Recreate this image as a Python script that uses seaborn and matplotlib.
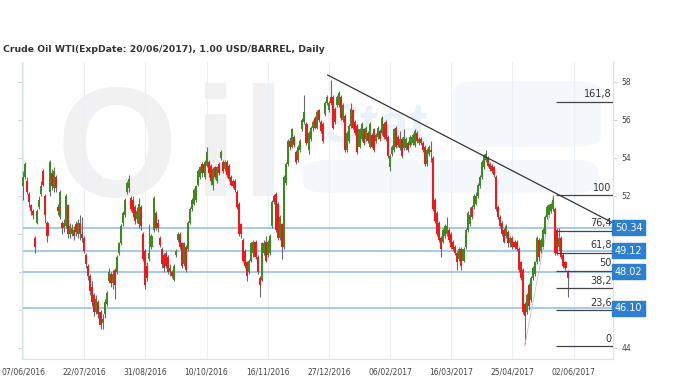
import matplotlib
matplotlib.use('Agg')
import matplotlib.pyplot as plt
from matplotlib.patches import FancyBboxPatch
import seaborn as sns
import numpy as np

# Daily candles (one entry per trading day, oldest first)
opens = [52.5, 53.0, 52.8, 52.1, 51.5, 51.2, 49.8, 50.6, 51.4, 52.1,
         53.3, 52.0, 50.6, 52.2, 53.2, 52.4, 53.0, 51.4, 50.9, 50.6,
         50.3, 50.4, 51.5, 50.0, 50.0, 50.2, 50.5, 50.0, 50.6, 50.0,
         49.8, 48.9, 48.3, 47.8, 47.2, 46.8, 45.9, 46.4, 45.9, 45.3,
         45.8, 46.3, 47.5, 47.9, 47.4, 48.1, 48.0, 49.0, 49.5, 50.6,
         51.0, 52.2, 52.4, 51.9, 51.8, 51.4, 50.8, 50.5, 51.4, 50.0,
         49.1, 48.3, 48.7, 49.3, 50.2, 51.1, 50.6, 49.8, 49.2, 48.9,
         49.0, 48.8, 48.0, 48.0, 47.6, 48.9, 49.7, 50.0, 49.5, 48.4,
         49.3, 49.2, 50.6, 51.3, 51.6, 51.8, 52.6, 53.0, 53.7, 53.0,
         53.6, 53.8, 53.6, 52.6, 53.5, 52.8, 53.7, 54.0, 53.8, 53.4,
         53.8, 53.6, 53.0, 52.8, 52.8, 52.2, 51.6, 50.5, 49.7, 49.1,
         48.5, 48.0, 48.6, 49.0, 49.6, 48.8, 47.7, 47.6, 49.0, 49.6,
         48.9, 49.0, 50.4, 52.0, 52.1, 51.6, 49.8, 50.5, 49.3, 52.7,
         53.7, 54.9, 54.6, 55.1, 54.3, 53.9, 54.4, 55.5, 55.9, 55.8,
         54.4, 55.0, 55.6, 56.1, 55.6, 56.5, 55.9, 55.8, 56.3, 56.9,
         56.5, 57.2, 57.2, 56.6, 56.8, 56.8, 57.2, 56.0, 56.2, 54.4,
         54.9, 55.7, 56.5, 55.9, 55.7, 54.6, 55.0, 55.5, 55.0, 55.3,
         54.6, 55.2, 55.5, 54.9, 55.1, 55.4, 55.3, 55.8, 55.9, 55.1,
         53.5, 54.2, 54.4, 55.6, 55.1, 54.5, 55.0, 54.5, 54.5, 54.8,
         54.7, 54.8, 54.7, 55.3, 54.8, 55.0, 54.8, 54.6, 53.7, 54.2,
         54.4, 54.0, 51.8, 51.1, 50.6, 49.8, 49.6, 49.9, 50.0, 50.2,
         50.0, 49.6, 49.3, 49.0, 48.7, 49.2, 48.6, 49.3, 50.2, 50.5,
         51.4, 51.4, 51.6, 52.0, 52.5, 53.0, 53.5, 53.9, 54.0, 53.7,
         53.6, 53.5, 53.0, 51.4, 50.9, 50.6, 50.2, 49.9, 50.1, 49.5,
         49.8, 49.6, 49.6, 49.2, 48.5, 48.1, 46.3, 45.9, 47.3, 46.5,
         47.7, 47.9, 48.5, 49.7, 49.1, 49.3, 50.0, 50.9, 51.0, 51.2,
         51.3, 51.3, 50.2, 49.3, 49.8, 48.9, 48.5, 48.0]
closes = [53.0, 53.7, 52.2, 51.7, 51.2, 51.0, 49.3, 51.2, 51.8, 52.5,
          52.6, 51.0, 49.9, 53.8, 52.5, 53.3, 52.4, 51.2, 52.2, 50.3,
          50.6, 52.0, 50.0, 50.4, 50.3, 49.9, 50.1, 50.6, 50.0, 49.8,
          49.1, 48.4, 47.8, 47.0, 46.4, 45.9, 46.6, 45.8, 45.2, 45.5,
          46.4, 46.9, 48.0, 47.4, 47.9, 47.3, 48.8, 49.5, 50.4, 51.1,
          51.8, 52.7, 52.9, 51.3, 51.1, 50.7, 51.2, 51.6, 50.4, 48.7,
          47.3, 47.7, 49.0, 49.9, 51.9, 50.3, 50.3, 49.4, 48.4, 48.2,
          48.3, 48.0, 48.2, 47.8, 48.3, 49.1, 50.0, 49.3, 48.3, 49.5,
          48.1, 50.6, 51.3, 51.8, 52.3, 52.5, 53.3, 53.5, 53.2, 53.8,
          54.3, 53.2, 52.8, 53.4, 53.0, 53.5, 53.2, 54.3, 53.3, 53.8,
          53.1, 52.9, 52.6, 52.5, 52.3, 51.4, 50.0, 50.0, 48.6, 48.3,
          47.8, 48.6, 49.5, 49.6, 48.8, 48.0, 47.3, 49.5, 49.5, 48.6,
          49.6, 49.9, 51.7, 51.7, 50.2, 49.8, 50.9, 49.3, 53.0, 53.7,
          54.9, 54.6, 55.5, 54.7, 53.8, 54.6, 54.9, 56.0, 56.4, 54.8,
          55.3, 55.6, 55.9, 55.6, 56.4, 56.0, 55.4, 54.9, 56.9, 57.2,
          56.9, 56.9, 55.6, 55.9, 57.2, 57.4, 56.1, 56.8, 54.4, 55.3,
          55.7, 56.6, 55.6, 55.3, 54.3, 55.5, 55.8, 54.8, 55.6, 54.9,
          55.8, 54.6, 54.4, 55.2, 55.6, 55.0, 56.1, 55.1, 55.0, 54.1,
          54.1, 54.6, 55.5, 54.6, 54.7, 55.0, 54.1, 55.1, 55.0, 54.4,
          55.1, 55.2, 55.4, 54.9, 55.0, 54.8, 54.4, 53.7, 54.4, 54.6,
          54.3, 51.3, 50.7, 50.0, 49.7, 49.2, 50.2, 50.4, 50.4, 49.7,
          49.3, 49.2, 49.0, 48.5, 49.2, 48.3, 49.2, 50.2, 51.1, 51.0,
          50.9, 52.0, 52.0, 52.6, 53.0, 53.8, 54.1, 54.2, 53.6, 53.4,
          53.3, 53.1, 51.3, 50.9, 50.4, 50.0, 49.6, 50.4, 49.5, 49.8,
          49.3, 49.3, 49.2, 48.1, 47.7, 45.9, 45.7, 46.8, 46.2, 47.7,
          48.2, 48.5, 49.8, 48.8, 49.7, 50.2, 50.9, 51.4, 51.5, 51.6,
          51.8, 49.0, 49.0, 49.8, 48.8, 48.3, 48.2, 47.7]
highs = [53.3, 53.8, 53.0, 52.2, 51.6, 51.3, 49.9, 51.3, 52.0, 52.8,
         53.4, 52.1, 50.7, 53.9, 53.4, 53.5, 53.1, 51.6, 52.3, 50.7,
         50.8, 52.1, 51.6, 50.6, 50.5, 50.4, 50.7, 50.8, 51.0, 50.9,
         49.9, 49.0, 48.4, 47.9, 47.5, 46.9, 46.8, 46.5, 46.0, 45.8,
         46.6, 47.0, 48.2, 48.0, 48.1, 48.2, 48.9, 49.6, 50.5, 51.2,
         51.9, 52.8, 53.1, 52.0, 52.0, 51.5, 51.4, 51.9, 51.5, 50.1,
         49.2, 48.5, 50.5, 50.0, 52.0, 51.2, 50.8, 49.9, 49.3, 49.0,
         49.1, 48.9, 48.4, 48.1, 48.4, 49.2, 50.1, 50.1, 49.6, 49.6,
         49.4, 50.7, 51.4, 51.9, 52.4, 52.6, 53.4, 53.6, 53.8, 53.9,
         54.6, 53.9, 53.7, 53.5, 53.6, 53.6, 53.8, 54.4, 53.9, 53.9,
         53.9, 53.7, 53.1, 52.9, 52.9, 52.3, 51.7, 50.6, 49.8, 49.2,
         48.6, 48.7, 49.6, 49.7, 49.7, 48.9, 47.8, 49.6, 49.7, 49.9,
         49.7, 50.0, 51.8, 52.1, 52.2, 51.7, 51.0, 50.6, 53.1, 53.8,
         55.0, 55.1, 55.6, 55.2, 54.4, 54.7, 55.0, 56.1, 57.3, 55.9,
         55.4, 55.7, 56.0, 56.2, 56.5, 56.6, 56.0, 55.9, 57.0, 57.3,
         57.0, 58.1, 57.3, 56.7, 57.3, 57.5, 57.3, 56.9, 56.3, 55.4,
         55.8, 56.9, 56.6, 56.0, 55.8, 55.6, 55.9, 55.6, 55.7, 55.4,
         55.9, 55.3, 55.6, 55.3, 55.7, 55.5, 56.2, 55.9, 56.0, 55.2,
         54.2, 54.7, 55.6, 55.7, 55.2, 55.4, 55.1, 55.5, 55.1, 54.9,
         55.2, 55.3, 55.5, 55.4, 55.1, 55.1, 54.9, 54.7, 54.5, 54.7,
         54.9, 54.1, 51.9, 51.2, 50.7, 49.9, 50.3, 50.5, 50.9, 50.3,
         50.1, 49.7, 49.4, 49.1, 49.3, 49.3, 49.3, 50.3, 51.2, 51.4,
         51.5, 52.1, 52.2, 52.7, 53.1, 53.9, 54.2, 54.4, 54.1, 53.8,
         53.7, 53.6, 53.1, 51.5, 51.0, 50.7, 50.3, 50.5, 50.2, 49.9,
         49.9, 49.7, 49.7, 49.3, 48.6, 48.2, 46.4, 46.9, 47.4, 47.8,
         48.3, 48.6, 49.9, 49.8, 49.8, 50.3, 51.0, 51.5, 51.6, 51.7,
         52.05, 51.4, 50.3, 50.3, 49.9, 49.0, 48.6, 48.1]
lows = [51.8, 52.9, 52.1, 51.4, 51.0, 50.8, 49.0, 50.5, 51.3, 52.0,
        52.5, 50.6, 49.6, 52.0, 52.3, 52.2, 52.2, 51.0, 50.8, 50.0,
        50.1, 50.3, 49.8, 49.8, 49.9, 49.7, 49.9, 49.8, 49.7, 49.6,
        49.0, 48.2, 47.6, 46.8, 46.2, 45.7, 45.8, 45.6, 45.0, 45.0,
        45.6, 46.2, 47.4, 47.2, 47.1, 46.6, 47.9, 48.9, 49.4, 50.4,
        50.9, 52.1, 52.2, 51.2, 50.9, 50.5, 50.6, 50.3, 50.2, 48.6,
        47.1, 47.5, 48.6, 49.2, 50.1, 50.2, 50.1, 49.3, 48.2, 48.0,
        48.2, 47.9, 47.8, 47.7, 47.5, 48.8, 49.6, 49.2, 48.2, 48.3,
        48.0, 49.1, 50.5, 51.2, 51.5, 51.7, 52.5, 52.9, 53.0, 52.9,
        53.5, 53.0, 52.6, 52.3, 52.9, 52.7, 53.1, 53.9, 53.2, 53.3,
        53.0, 52.8, 52.5, 52.4, 52.2, 51.3, 49.9, 49.8, 48.5, 48.2,
        47.5, 47.9, 48.5, 48.8, 48.7, 47.9, 46.7, 47.5, 48.9, 48.5,
        48.8, 48.9, 50.3, 51.6, 50.1, 49.7, 49.7, 48.7, 49.2, 52.6,
        53.6, 54.4, 54.5, 54.6, 53.7, 53.8, 54.3, 55.4, 55.8, 54.7,
        54.2, 54.9, 55.4, 55.5, 55.5, 55.9, 55.3, 54.8, 56.2, 56.8,
        56.4, 56.8, 55.5, 55.8, 56.7, 56.7, 56.0, 55.9, 54.3, 54.3,
        54.8, 55.6, 55.5, 55.2, 54.2, 54.5, 54.9, 54.7, 54.9, 54.8,
        54.5, 54.5, 54.3, 54.8, 55.0, 54.9, 55.2, 55.0, 54.9, 54.0,
        53.3, 54.1, 54.3, 54.5, 54.6, 54.4, 54.0, 54.4, 54.4, 54.3,
        54.6, 54.7, 54.6, 54.8, 54.7, 54.7, 54.3, 53.6, 53.6, 54.1,
        53.8, 51.2, 50.6, 49.9, 49.6, 48.8, 49.5, 49.8, 49.9, 49.6,
        49.2, 49.1, 48.9, 48.1, 48.6, 48.1, 48.5, 49.2, 50.1, 50.4,
        50.8, 51.3, 51.5, 51.9, 52.4, 52.9, 53.4, 53.8, 53.5, 53.3,
        53.2, 53.0, 51.2, 50.8, 50.3, 49.9, 49.5, 49.8, 49.3, 49.3,
        49.2, 49.2, 49.1, 48.0, 47.6, 45.8, 44.2, 45.8, 46.0, 46.4,
        47.6, 47.8, 48.4, 48.6, 49.0, 49.2, 49.9, 50.8, 50.9, 51.1,
        51.2, 48.9, 48.9, 49.1, 48.7, 48.2, 48.1, 46.7]

date_labels = ['07/06/2016', '22/07/2016', '31/08/2016', '10/10/2016', '16/11/2016',
               '27/12/2016', '06/02/2017', '16/03/2017', '25/04/2017', '02/06/2017']
label_every = 30

# horizontal price lines with their tags on the right
price_levels = [50.34, 49.12, 48.02, 46.10]

# fibonacci retracement drawn from the May low to the late-May high
fib_low_bar, fib_low = 246, 44.1
fib_high_bar, fib_high = 260, 52.05
fib_ratios = [0, 23.6, 38.2, 50, 61.8, 76.4, 100, 161.8]
fib_names = ['0', '23,6', '38,2', '50', '61,8', '76,4', '100', '161,8']

# falling trend line from the January top
trend_x = [149.3, 289.3]
trend_y = [58.37, 50.58]

sns.set_style('white')
plt.rcParams['font.family'] = ['DejaVu Sans']

fig = plt.figure(figsize=(6.8, 3.81), dpi=100)
ax = fig.add_axes([22 / 680, 1 - 359 / 381, 591 / 680, 297 / 381])

x_min, x_max = -0.5, 289.3
ax.set_xlim(x_min, x_max)
ax.set_ylim(43.42, 59.05)

# faint "OilStat" watermark
wm = dict(transform=ax.transAxes, family='Liberation Sans', weight='bold',
          va='baseline', ha='left', zorder=0)
ax.text(0.058, 0.55, 'O', fontsize=112, color='#f1f1f1', **wm)
ax.text(0.29, 0.55, 'i', fontsize=112, color='#f1f1f1', **wm)
ax.text(0.37, 0.55, 'l', fontsize=112, color='#f1f1f1', **wm)
ax.add_patch(FancyBboxPatch((0.475, 0.56), 0.5, 0.11, boxstyle='round,pad=0,rounding_size=0.04',
                            transform=ax.transAxes, fc='#f4f7fc', ec='none', zorder=0))
ax.add_patch(FancyBboxPatch((0.73, 0.715), 0.25, 0.22, boxstyle='round,pad=0,rounding_size=0.04',
                            transform=ax.transAxes, fc='#f4f7fc', ec='none', zorder=0))
ax.text(0.51, 0.728, 'Stat', fontsize=40, color='#ebf1f9', **wm)

o = np.array(opens)
c = np.array(closes)
h = np.array(highs)
l = np.array(lows)
idx = np.arange(len(c))

# candles
ax.vlines(idx, l, h, color='#6a6a6a', lw=0.8, zorder=3)
body_col = np.where(c >= o, '#3a8c1c', '#f01818')
ax.bar(idx, np.maximum(np.abs(c - o), 0.06), bottom=np.minimum(o, c), width=1.0,
       color=body_col, linewidth=0, zorder=4)

# horizontal blue levels
for p in price_levels:
    ax.axhline(p, color='#8dbbe8', lw=1.1, zorder=2)
    ax.text(1.003, p, f'{p:.2f}', transform=ax.get_yaxis_transform(), ha='left', va='center',
            fontsize=7, color='white', zorder=10, clip_on=False,
            bbox=dict(boxstyle='square,pad=0.25', fc='#2d7fd1', ec='#2d7fd1'))

# fibonacci levels
sns.lineplot(x=[fib_low_bar, fib_high_bar], y=[fib_low, fib_high], ax=ax,
             color='#c8c8c8', lw=0.6, zorder=3)
fib_start = fib_high_bar + 1.5
for r, name in zip(fib_ratios, fib_names):
    lvl = fib_low + (fib_high - fib_low) * r / 100
    ax.hlines(lvl, fib_start, x_max, color='#444444', lw=0.9, zorder=5)
    ax.text(x_max - 0.6, lvl + 0.12, name, ha='right', va='bottom', fontsize=7,
            color='#333333', zorder=6)

# trend line
sns.lineplot(x=trend_x, y=trend_y, ax=ax, color='#333333', lw=0.9, zorder=6)

# axes styling
ax.set_xticks(np.arange(len(date_labels)) * label_every)
ax.set_xticklabels(date_labels)
yt = np.arange(44, 59, 2)
ax.set_yticks(yt)
# 46, 48 and 50 sit under the blue price tags
ax.set_yticklabels(['' if v in (46, 48, 50) else str(v) for v in yt])
ax.grid(axis='x', color='#e9f0f8', lw=0.8)
ax.grid(axis='y', visible=False)
for s in ['left', 'bottom', 'right']:
    ax.spines[s].set_color('#d6e3f0')
    ax.spines[s].set_linewidth(0.9)
ax.spines['top'].set_visible(False)
ax.tick_params(axis='x', length=0, pad=6, labelsize=5.5, labelcolor='#444444')
ax.tick_params(axis='y', left=True, right=True, labelleft=False, labelright=True,
               length=3, width=0.8, color='#c8d6e5', labelsize=5.5, labelcolor='#444444', pad=3)

fig.text(3 / 680, 1 - 50 / 381, 'Crude Oil WTI(ExpDate: 20/06/2017), 1.00 USD/BARREL, Daily',
         fontsize=6.7, weight='bold', color='#333333', va='center', ha='left')

fig.savefig('out.png', dpi=100)
